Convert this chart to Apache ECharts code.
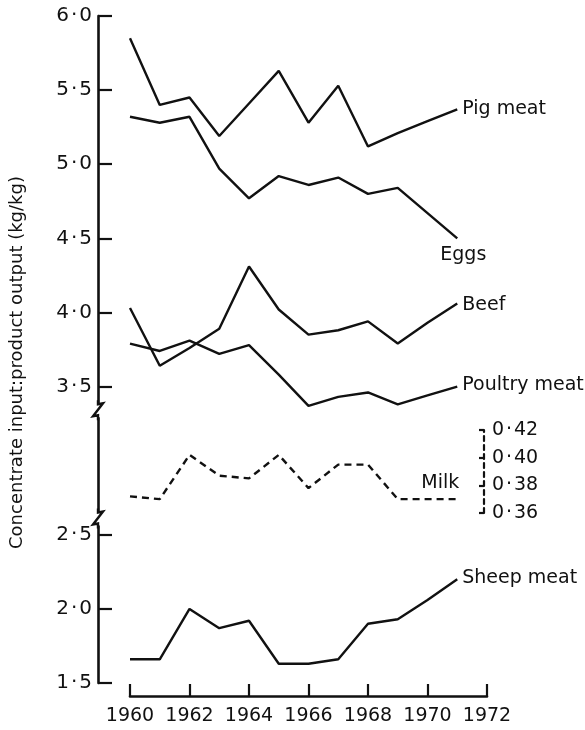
<!DOCTYPE html>
<html><head><meta charset="utf-8">
<script src="https://cdn.jsdelivr.net/npm/echarts@6/dist/echarts.min.js"></script>
<style>html,body{margin:0;padding:0;background:#fff}#c{width:585px;height:730px}</style>
</head><body><div id="c"></div>
<script>
const years = [1960,1961,1962,1963,1964,1965,1966,1967,1968,1969,1970,1971];
const pigMeat = [5.85,5.40,5.45,5.19,5.41,5.63,5.28,5.53,5.12,5.21,5.29,5.37];
const eggs    = [5.32,5.28,5.32,4.97,4.77,4.92,4.86,4.91,4.80,4.84,4.67,4.50];
const beef    = [4.03,3.64,3.76,3.89,4.31,4.02,3.85,3.88,3.94,3.79,3.93,4.06];
const poultry = [3.79,3.74,3.81,3.72,3.78,3.58,3.37,3.43,3.46,3.38,3.44,3.50];
const sheep   = [1.66,1.66,2.00,1.87,1.92,1.63,1.63,1.66,1.90,1.93,2.06,2.20];
const milk    = [0.372,0.370,0.402,0.387,0.385,0.402,0.378,0.395,0.395,0.370,0.370,0.370];
const xTicks = [1960,1962,1964,1966,1968,1970,1972];
const yTicks = [1.5,2.0,2.5,3.5,4.0,4.5,5.0,5.5,6.0];
const milkTicks = [0.36,0.38,0.40,0.42];
const axisBreaks = [3.34, 2.61];
const yTitle = 'Concentrate input:product output (kg/kg)';

const FONT = 'DejaVu Sans';
const INK = '#111';
const Y_OFFSET = 32;
const LW = 2.4;
const dot = (v, d) => v.toFixed(d).replace('.', '\u200a\u00b7\u200a');
const pairs = arr => years.map((y, i) => [y, arr[i]]);

function lineSeries(name, arr, offset, extra) {
  return Object.assign({
    name: name, type: 'line', xAxisIndex: 0, yAxisIndex: 0,
    data: pairs(arr), showSymbol: false, symbol: 'none', clip: false,
    lineStyle: { color: INK, width: LW },
    endLabel: { show: true, formatter: name, color: INK, fontFamily: FONT, fontSize: 19, distance: 5, offset: offset },
    emphasis: { disabled: true }, animation: false
  }, extra || {});
}

const chart = echarts.init(document.getElementById('c'), null, { renderer: 'canvas' });
chart.setOption({
  backgroundColor: '#fff',
  animation: false,
  grid: [
    { left: 130, right: 98, top: 16, bottom: 47 },
    { left: 130, right: 98, top: 430, bottom: 217 }
  ],
  xAxis: [
    { type: 'value', gridIndex: 0, min: 1960, max: 1972, interval: 2, offset: 13,
      axisLine: { show: true, lineStyle: { color: INK, width: 2.6 } },
      axisTick: { show: true, inside: true, length: 12, lineStyle: { color: INK, width: 2.2 }, customValues: xTicks },
      axisLabel: { color: INK, fontFamily: FONT, fontSize: 19, margin: 11, customValues: xTicks, formatter: v => String(v) },
      splitLine: { show: false } },
    { type: 'value', gridIndex: 1, min: 1960, max: 1972, show: false }
  ],
  yAxis: [
    { type: 'value', gridIndex: 0, min: 1.5, max: 6.0, interval: 0.5, offset: Y_OFFSET,
      axisLine: { show: true, lineStyle: { color: INK, width: 2.6 } },
      axisTick: { show: true, inside: true, length: 14, lineStyle: { color: INK, width: 2.2 }, customValues: yTicks },
      axisLabel: { color: INK, fontFamily: FONT, fontSize: 20, margin: 6, customValues: yTicks, formatter: v => dot(v, 1) },
      splitLine: { show: false } },
    { type: 'value', gridIndex: 1, position: 'right', min: 0.36, max: 0.42, interval: 0.02, offset: -3,
      axisLine: { show: true, lineStyle: { color: INK, width: 2.2, type: [5, 4] } },
      axisTick: { show: true, inside: true, length: 5, lineStyle: { color: INK, width: 2.2 }, customValues: milkTicks },
      axisLabel: { color: INK, fontFamily: FONT, fontSize: 19, margin: 8, customValues: milkTicks, formatter: v => dot(v, 2) },
      splitLine: { show: false } }
  ],
  series: [
    lineSeries('Pig meat', pigMeat, [0, 0]),
    lineSeries('Eggs', eggs, [-22, 17]),
    lineSeries('Beef', beef, [0, 2]),
    lineSeries('Poultry meat', poultry, [0, -1]),
    lineSeries('Sheep meat', sheep, [0, -1]),
    lineSeries('Milk', milk, [-41, -16], {
      xAxisIndex: 1, yAxisIndex: 1,
      lineStyle: { color: INK, width: LW, type: [7, 5] }
    })
  ]
});

// y-axis title and axis-break marks on the left axis
const gfx = [];
const p0 = chart.convertToPixel({ gridIndex: 0 }, [1960, 1.5]);
const p1 = chart.convertToPixel({ gridIndex: 0 }, [1960, 6.0]);
const axisX = p0[0] - Y_OFFSET;
gfx.push({
  type: 'text', x: 17, y: (p0[1] + p1[1]) / 2 + 13, rotation: Math.PI / 2,
  style: { text: yTitle, fill: INK, font: '18px "DejaVu Sans"', align: 'center', verticalAlign: 'middle' }
});
axisBreaks.forEach(v => {
  const yy = chart.convertToPixel({ gridIndex: 0 }, [1960, v])[1];
  gfx.push({ type: 'rect', shape: { x: axisX - 3, y: yy - 7, width: 6, height: 14 }, style: { fill: '#fff' }, z: 100 });
  gfx.push({ type: 'polyline', shape: { points: [[axisX, yy - 10], [axisX, yy - 6], [axisX + 5, yy - 7], [axisX - 5, yy + 6], [axisX, yy + 5], [axisX, yy + 10]] },
    style: { stroke: INK, lineWidth: 2.4, fill: null }, z: 101 });
});
chart.setOption({ graphic: gfx });
</script>
</body></html>
